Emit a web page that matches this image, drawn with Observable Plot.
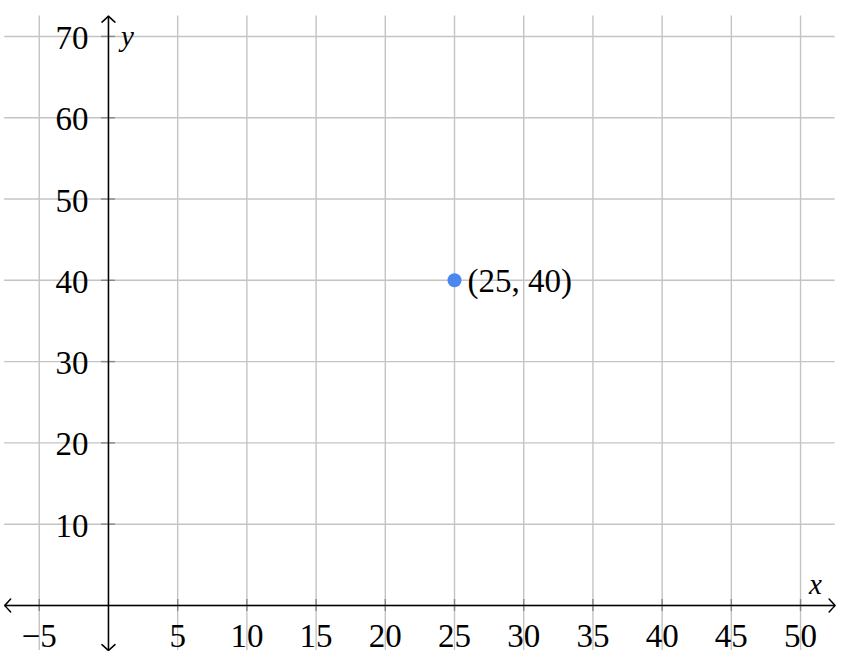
<!DOCTYPE html>
<html>
<head>
<meta charset="utf-8">
<script src="https://cdn.jsdelivr.net/npm/d3@7"></script>
<script src="https://cdn.jsdelivr.net/npm/@observablehq/plot@0.6"></script>
<style>
  html, body { margin: 0; padding: 0; background: #fff; }
  svg { display: block; }
</style>
</head>
<body>
<div id="chart"></div>
<script>
const xTicks = [-5, 5, 10, 15, 20, 25, 30, 35, 40, 45, 50];
const xGrid = [-5, 0, 5, 10, 15, 20, 25, 30, 35, 40, 45, 50];
const yTicks = [10, 20, 30, 40, 50, 60, 70];
const yGrid = [0, 10, 20, 30, 40, 50, 60, 70];
const xTickLabels = ["−5", "5", "10", "15", "20", "25", "30", "35", "40", "45", "50"];
const yTickLabels = ["10", "20", "30", "40", "50", "60", "70"];
const pointX = [25];
const pointY = [40];
const pointLabels = ["(25, 40)"];

const xDomain = [-7.80, 53.32];
const yDomain = [-7.63, 74.42];
const xExtent = [-7.5, 52.5];
const yExtent = [-5.55, 72.5];

const points = pointX.map((x, i) => ({x, y: pointY[i], label: pointLabels[i]}));
const font = "'Liberation Serif', 'DejaVu Serif', serif";

function chevron(color) {
  const m = d3.create("svg:marker")
    .attr("viewBox", "-8 -8 16 16")
    .attr("markerWidth", 16)
    .attr("markerHeight", 16)
    .attr("markerUnits", "userSpaceOnUse")
    .attr("orient", "auto-start-reverse");
  m.append("path")
    .attr("d", "M-6,-6.5 Q-1.5,-1.5 0,0 Q-1.5,1.5 -6,6.5")
    .attr("fill", "none")
    .attr("stroke", color)
    .attr("stroke-width", 1.5)
    .attr("stroke-linecap", "round");
  return m.node();
}

const chart = Plot.plot({
  width: 846,
  height: 667,
  margin: 0,
  x: {domain: xDomain, axis: null},
  y: {domain: yDomain, axis: null},
  style: {fontFamily: font, background: "#fff"},
  marks: [
    Plot.ruleX(xGrid, {x: d => d, y1: yExtent[0], y2: yExtent[1], stroke: "#c4c4c4", strokeWidth: 1.4}),
    Plot.ruleY(yGrid, {y: d => d, x1: xExtent[0], x2: xExtent[1], stroke: "#c4c4c4", strokeWidth: 1.4}),
    Plot.ruleX(xTicks, {x: d => d, y1: 0, y2: 0, insetTop: -6, insetBottom: -6, stroke: "#888", strokeWidth: 1.4}),
    Plot.ruleY(yTicks, {y: d => d, x1: 0, x2: 0, insetLeft: -7, insetRight: -7, stroke: "#888", strokeWidth: 1.4}),
    Plot.link([{x1: xExtent[0], x2: xExtent[1], y: 0}], {x1: "x1", x2: "x2", y1: "y", y2: "y", stroke: "#000", strokeWidth: 1.5, markerStart: chevron, markerEnd: chevron}),
    Plot.link([{y1: yExtent[0], y2: yExtent[1], x: 0}], {x1: "x", x2: "x", y1: "y1", y2: "y2", stroke: "#000", strokeWidth: 1.5, markerStart: chevron, markerEnd: chevron}),
    Plot.text(xTicks, {x: d => d, y: 0, text: (d, i) => xTickLabels[i], dy: 31, fontSize: 33, textAnchor: "middle", lineAnchor: "middle", fill: "#000"}),
    Plot.text(yTicks, {x: 0, y: d => d, text: (d, i) => yTickLabels[i], dx: -20, dy: 2, fontSize: 33, textAnchor: "end", lineAnchor: "middle", fill: "#000"}),
    Plot.text(["x"], {x: 50, y: 0, text: d => d, dx: 15, dy: -21, fontSize: 29, fontStyle: "italic", textAnchor: "middle", lineAnchor: "middle", fill: "#000"}),
    Plot.text(["y"], {x: 0, y: 70, text: d => d, dx: 19, dy: 0, fontSize: 29, fontStyle: "italic", textAnchor: "middle", lineAnchor: "middle", fill: "#000"}),
    Plot.dot(points, {x: "x", y: "y", r: 7, fill: "#4a88f0", stroke: "none"}),
    Plot.text(points, {x: "x", y: "y", text: "label", dx: 13, dy: 1, fontSize: 33, textAnchor: "start", lineAnchor: "middle", fill: "#000"})
  ]
});
document.getElementById("chart").appendChild(chart);
</script>
</body>
</html>
